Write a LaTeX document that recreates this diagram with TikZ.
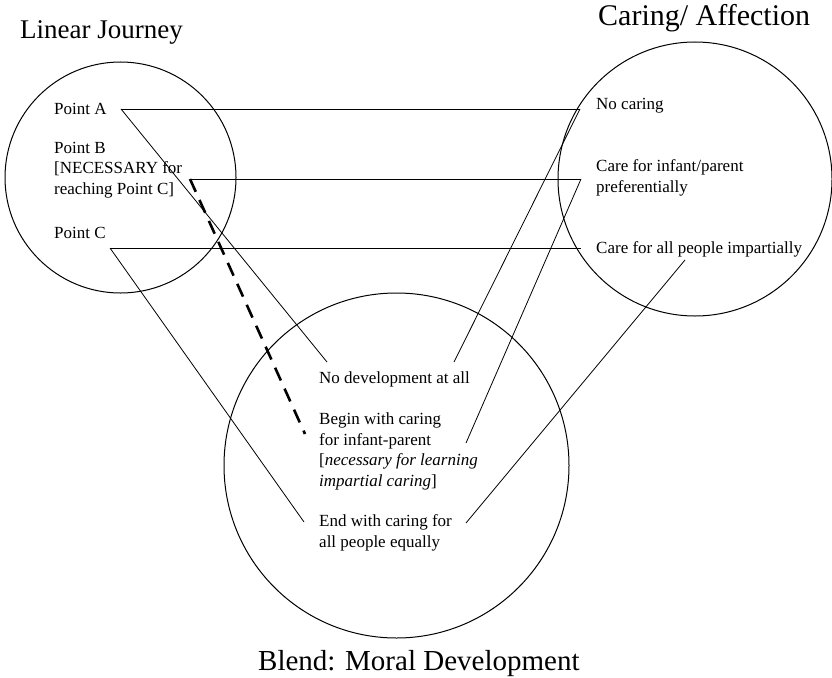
\documentclass[tikz,border=0pt]{standalone}
\usepackage{fontspec}
\setmainfont{Liberation Serif}
\usetikzlibrary{calc}

\begin{document}
\begin{tikzpicture}[x=1pt,y=-1pt]
\tikzstyle{txt} = [anchor=base west, inner sep=0pt, align=left, font=\fontsize{17}{20.5}\selectfont]
\tikzstyle{ttl} = [anchor=base west, inner sep=0pt]
\tikzstyle{space} = [draw, circle, line width=1pt, inner sep=0pt]
\tikzstyle{link} = [line width=0.8pt]
\useasboundingbox (0,0) rectangle (832,677);
% the three spaces
\node[space, minimum size=231pt](journey) at (120.5,177.5){};
\node[space, minimum size=274pt](caring) at (695,179){};
\node[space, minimum size=345pt](blend) at (396.5,465.5){};
\node[ttl, font=\fontsize{27}{30}\selectfont](jtitle) at (20,39){Linear Journey};
\node[ttl, font=\fontsize{30}{33}\selectfont](ctitle) at (598,26){Caring/ Affection};
\node[ttl, font=\fontsize{29}{32}\selectfont](btitle) at (258,670){Blend: Moral Development};
% linear journey (base = last line)
\node[txt](ptA) at (54,114){Point A};
\node[txt](ptB) at (54,194){Point B\\{[}NECESSARY for\\reaching Point C]};
\node[txt](ptC) at (54,238){Point C};
% caring
\node[txt](noCare) at (596,109){No caring};
\node[txt](prefCare) at (596,192){Care for infant/parent\\preferentially};
\node[txt](impCare) at (596,253){Care for all people impartially};
% blend
\node[txt](noDev) at (319,383){No development at all};
\node[txt](beginDev) at (319,486){Begin with caring\\for infant-parent\\{[}\textit{necessary for learning}\\\textit{impartial caring}]};
\node[txt](endDev) at (319,547){End with caring for\\all people equally};
% link ends
\coordinate (aL) at (121,109);
\coordinate (aR) at (580,109);
\coordinate (bL) at (190,179);
\coordinate (bR) at (581,179);
\coordinate (cL) at (110,248);
\coordinate (cR) at (581,248);
\coordinate (imp) at (685,260);
\coordinate (noDevL) at (327,362);
\coordinate (noDevR) at (454,362);
\coordinate (beginL) at (305,434);
\coordinate (beginR) at (466,443);
\coordinate (endL) at (304,522);
\coordinate (endR) at (466,523);
\draw[link] (aL) -- (aR);
\draw[link] (bL) -- (bR);
\draw[link] (cL) -- (cR);
\draw[link] (aL) -- (noDevL);
\draw[link] (aR) -- (noDevR);
\draw[link] (bR) -- (beginR);
\draw[link] (cL) -- (endL);
\draw[link] (imp) -- (endR);
\draw[line width=2.6pt, dash pattern=on 14pt off 9pt] (bL) -- (beginL);
\end{tikzpicture}
\end{document}
